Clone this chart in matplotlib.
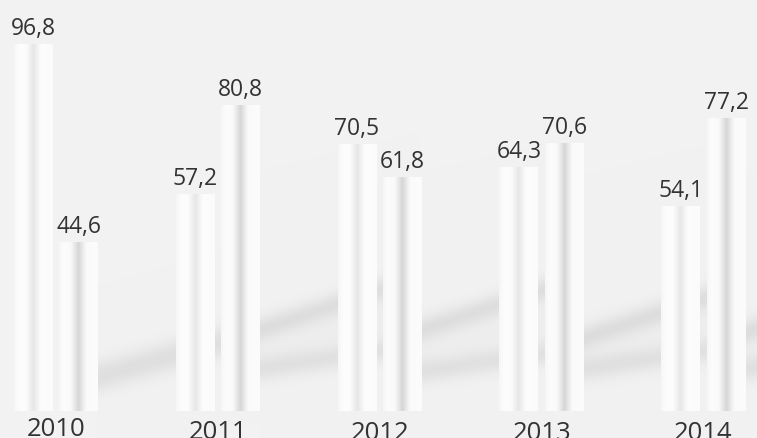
import numpy as np
import matplotlib
matplotlib.use('Agg')
import matplotlib.pyplot as plt

# ---------------- data ----------------
years = ['2010', '2011', '2012', '2013', '2014']
series_a = [96.8, 57.2, 70.5, 64.3, 54.1]
series_b = [44.6, 80.8, 61.8, 70.6, 77.2]

# ---------------- style / layout ----------------
W, H, DPI = 757, 439, 100
BG = '#f2f2f2'
TEXT = '#333333'
FONT = ['Open Sans', 'DejaVu Sans']

group_spacing_px = 161.9
first_center_px = 55.9
base_px = 411.7          # baseline of bars, pixels from top
px_per_unit = 3.788
bar_w = 39.0 / group_spacing_px
bar_off = 22.7 / group_spacing_px
year_drop_px = [24.5, 27.2, 28.5, 28.5, 28.5]

# horizontal shading profiles of the cylindrical bars (grey levels)
prof_pos = [0, 0.12, 0.30, 0.42, 0.50, 0.58, 0.70, 1.0]
prof_a = [246, 252, 253, 240, 230, 240, 253, 251]
prof_b = [246, 252, 250, 229, 214, 229, 250, 252]

fig = plt.figure(figsize=(W / DPI, H / DPI), dpi=DPI, facecolor=BG)
ax = fig.add_axes([0, 0, 1, 1])
ax.set_facecolor(BG)
ax.axis('off')

xlim = (-first_center_px / group_spacing_px, (W - first_center_px) / group_spacing_px)
ylim = (-(H - base_px) / px_per_unit, base_px / px_per_unit)

# ---------------- decorative background ribbon ----------------
X, Y = np.meshgrid(np.arange(W) + 0.5, np.arange(H) + 0.5)
dark = np.zeros_like(X)
starts = [97, 259, 421, 584, 746, 900]
for k in range(5):
    m = (X >= starts[k]) & (X < starts[k + 1])
    u = X - starts[k]
    if k == 0:
        c = 378 - 0.28 * u
        d = 19 * np.exp(-0.5 * ((Y - c) / 11) ** 2)
    else:
        up0 = [0, 331, 331, 339, 333][k]
        lo0 = [0, 370, 373, 370, 370][k]
        cu = up0 - 0.33 * u
        cl = lo0 - 0.15 * u
        cm = 0.5 * (cu + cl)
        d = (18 * np.exp(-0.5 * ((Y - cu) / 8.5) ** 2)
             + 15 * np.exp(-0.5 * ((Y - cl) / 8.5) ** 2)
             + 4 * np.exp(-0.5 * ((Y - cm) / 22) ** 2))
    dark[m] = d[m]
g = np.clip((242 - dark) / 255.0, 0, 1)
img = np.dstack([g, g, g])
ax.imshow(img, extent=[0, 1, 0, 1], transform=ax.transAxes, origin='upper',
          aspect='auto', interpolation='bilinear', zorder=0)

# ---------------- bars ----------------
x = np.arange(len(years))


def shade(bars, prof):
    xs = np.linspace(0, 1, 128)
    gg = np.interp(xs, prof_pos, prof) / 255.0
    im = np.dstack([gg, gg, gg])  # shape (1, 128, 3)
    for b in bars:
        i = ax.imshow(im, extent=(b.get_x(), b.get_x() + b.get_width(), 0, b.get_height()),
                      aspect='auto', interpolation='bilinear', zorder=3)
        i.set_clip_path(b)


bars_a = ax.bar(x - bar_off, series_a, width=bar_w, color='white', linewidth=0, zorder=2)
bars_b = ax.bar(x + bar_off, series_b, width=bar_w, color='white', linewidth=0, zorder=2)
shade(bars_a, prof_a)
shade(bars_b, prof_b)

# ---------------- labels ----------------
for xs_, vals in ((x - bar_off, series_a), (x + bar_off, series_b)):
    for xi, v in zip(xs_, vals):
        ax.annotate(f'{v:.1f}'.replace('.', ','), (xi, v), xytext=(0, 7.2),
                    textcoords='offset points', ha='center', va='baseline',
                    fontsize=16.5, color=TEXT, family=FONT, zorder=5)

for xi, yr, dp in zip(x, years, year_drop_px):
    ax.annotate(yr, (xi, 0), xytext=(0, -dp * 0.72), textcoords='offset points',
                ha='center', va='baseline', fontsize=18.5, color=TEXT, family=FONT,
                zorder=5, annotation_clip=False)

ax.set_xlim(*xlim)
ax.set_ylim(*ylim)

fig.savefig('out.png', dpi=DPI, facecolor=BG)
